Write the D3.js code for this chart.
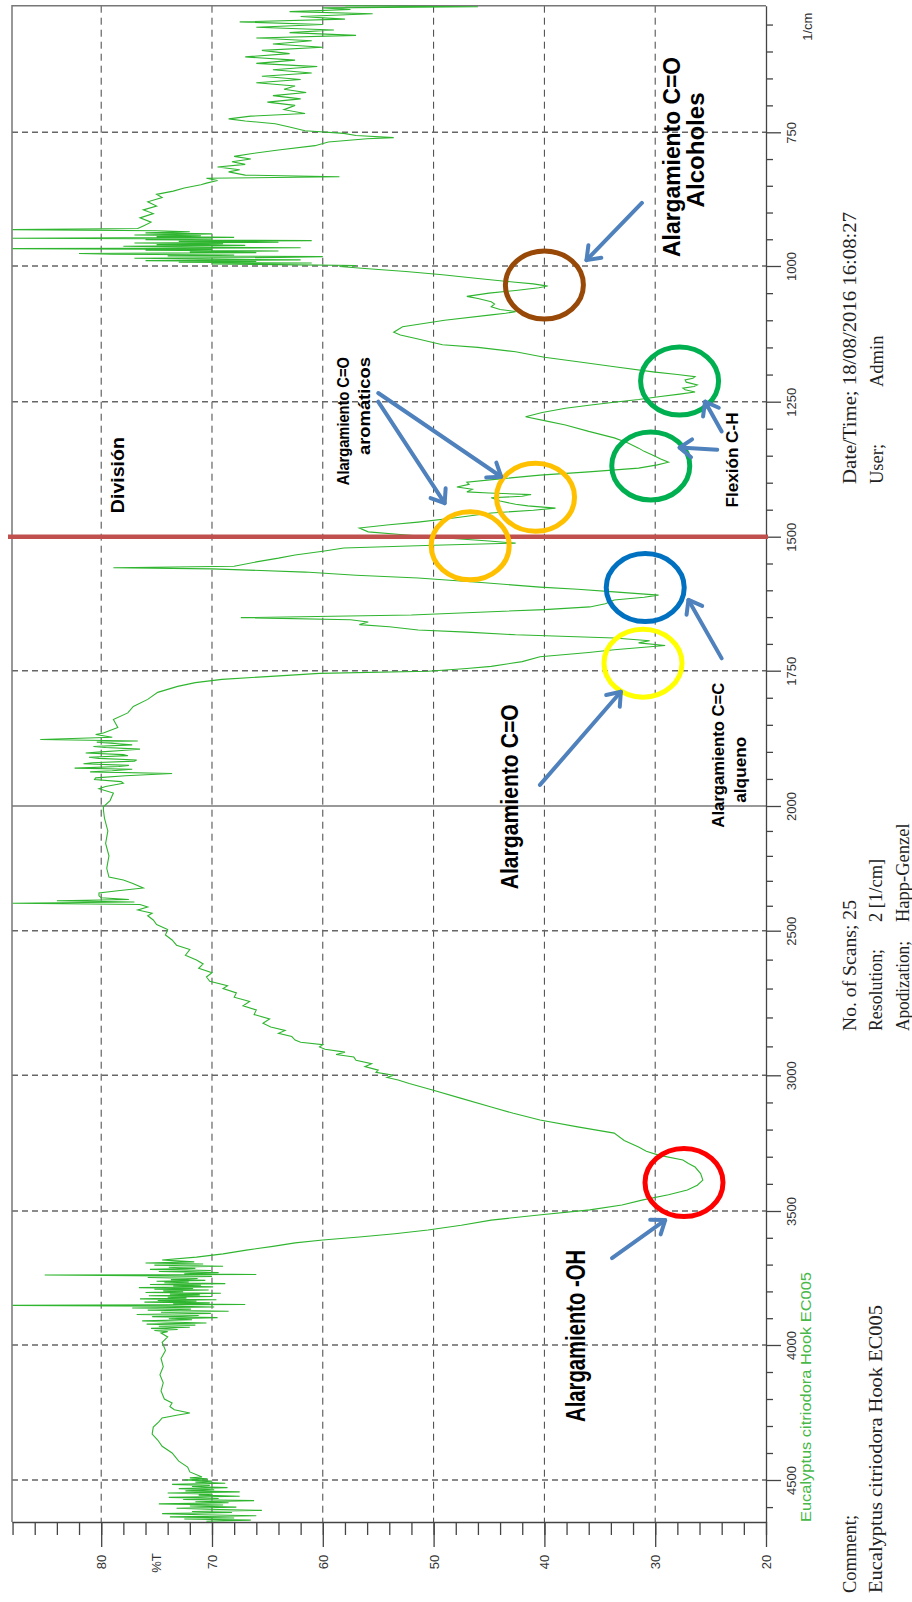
<!DOCTYPE html>
<html>
<head>
<meta charset="utf-8">
<script src="https://cdn.jsdelivr.net/npm/d3@7"></script>
<style>
  body { margin: 0; background: #fff; }
  svg { display: block; }
</style>
</head>
<body>
<div id="chart-container"></div>
<script>

// FTIR spectrum: [wavenumber 1/cm, %T]
const spectrum = [
  [4652,70.5],[4648,66.5],[4644,72.5],[4640,68.0],[4636,73.8],[4632,66.0],[4628,71.0],[4624,74.5],[4620,68.2],[4616,71.8],
  [4612,65.5],[4608,70.4],[4604,73.2],[4600,67.8],[4596,72.0],[4592,69.0],[4588,74.8],[4584,68.5],[4580,71.5],[4576,66.2],
  [4572,72.6],[4568,69.4],[4564,73.9],[4560,67.5],[4556,71.2],[4552,70.0],[4548,74.0],[4544,67.5],[4540,72.4],[4536,69.8],
  [4532,73.0],[4528,68.6],[4524,71.8],[4520,70.2],[4516,73.6],[4512,68.8],[4508,71.5],[4504,70.0],[4500,72.5],[4496,70.4],
  [4492,72.0],[4489,70.9],[4470,72],[4452,72.2],
  [4430,73],[4400,73.6],[4375,74.5],[4352,74.9],[4330,75.4],[4304,75.3],[4285,74.8],[4270,74.5],[4260,73.2],[4252,72.0],
  [4240,73.4],[4228,73.8],[4215,73.6],[4200,74.3],[4170,74.6],[4140,74.4],[4110,74.7],[4080,74.4],[4050,74.6],[4020,74.2],
  [3990,74.5],[3970,74.0],[3955,74.6],
  [3950,74.0],[3946,75.2],[3942,73.1],[3938,75.5],[3934,72.0],[3930,74.8],[3926,71.5],[3922,75.9],[3918,70.5],[3914,74.2],
  [3910,76.3],[3906,71.8],[3902,73.9],[3898,69.5],[3894,75.4],[3890,71.2],[3886,76.8],[3882,70.1],[3878,74.6],[3874,68.5],
  [3870,75.8],[3866,71.9],[3862,77.2],[3858,69.8],[3855,74.0],[3852,88],[3849,67],[3846,73.5],[3843,70.2],[3840,76.1],
  [3837,71.4],[3834,74.9],[3831,69.6],[3828,76.5],[3825,72.3],[3822,74.0],[3819,70.0],[3816,75.7],[3813,71.1],[3810,73.8],
  [3807,69.2],[3804,76.0],[3801,72.6],[3798,74.4],[3795,70.3],[3792,75.2],[3789,71.7],[3786,76.6],[3783,69.9],[3780,73.5],
  [3777,71.0],[3774,75.6],[3771,68.8],[3768,74.3],[3765,72.1],[3762,75.0],[3759,70.6],[3756,73.7],[3752,71.3],[3748,75.8],
  [3744,70.0],[3741,77.0],[3739,85.1],[3737,66.0],[3734,72.5],[3730,69.4],[3726,74.8],[3722,70.1],[3718,75.6],[3714,71.5],
  [3710,73.9],[3706,69.0],[3702,75.2],[3698,70.8],[3694,76.0],[3690,71.6],[3686,73.2],[3683,74.5],
  [3672,71.4],[3660,69],[3646,66.9],[3632,64.5],[3619,62.5],[3608,60],[3597,56.7],[3585,53.5],[3571,50.5],[3553,47.5],
  [3534,44.8],[3515,40.5],[3496,35.9],[3478,33],[3459,31.1],[3440,28.8],[3423,27.1],[3405,26.2],[3386,25.7],[3362,25.9],
  [3338,26.4],[3325,27.0],[3312,27.5],[3294,29.7],[3280,30.8],[3264,31.5],[3240,32.8],[3213,33.7],[3190,37],[3165,40.4],
  [3140,42.8],[3117,44.8],[3085,47.5],[3054,50.1],[3030,52.2],[3017,53.2],[3008,54.2],[3000,53.6],[2990,55.2],[2982,55.0],
  [2970,56.2],[2960,55.6],[2948,57.0],[2937,57.2],[2928,58.8],[2920,58.0],[2910,59.8],[2902,60.3],[2894,60.0],[2886,62.0],
  [2878,62.5],[2866,62.8],[2855,64.0],[2845,63.4],[2833,64.7],[2820,65.4],[2805,64.8],[2790,66.2],[2774,66.0],[2760,67.2],
  [2745,66.6],[2730,68.0],[2715,67.8],[2700,69.0],[2690,68.6],[2675,70.2],[2660,70.5],[2645,70.0],[2630,71.2],[2615,70.8],
  [2601,71.4],[2585,72.4],[2565,72.0],[2550,73.2],[2532,73.6],[2515,74.2],[2495,74.0],[2475,75.0],[2457,75.3],[2440,75.8],
  [2430,75.4],[2417,76.7],[2405,75.8],[2395,76.5],[2390,88],[2385,77],[2380,84],[2375,77.5],[2368,80],[2360,80.2],
  [2349,80.2],[2340,78.5],[2329,76.2],[2310,77.2],[2297,78.0],[2285,79.3],[2250,79.5],[2200,79.3],[2150,79.6],[2100,79.4],
  [2050,79.7],[2016,79.8],[2003,79.8],[1990,79.2],[1976,78.9],[1968,80.2],[1964,79.6],[1958,78.0],[1955,78.2],[1951,80.6],
  [1948,80.5],[1944,77.8],[1940,73.6],[1937,81.0],[1935,79],[1932,77.2],[1930,82.4],[1927,78.4],[1925,77.5],[1922,81.6],
  [1920,80.8],[1917,77.0],[1915,76.8],[1912,80.2],[1910,81.1],[1907,77.6],[1905,78],[1902,81.4],[1900,80],[1897,77.8],
  [1895,76.5],[1892,79.6],[1890,80.7],[1887,77.2],[1885,78.5],[1882,80.4],[1880,76.7],[1877,85.5],[1873,79],[1868,80.5],
  [1865,79.8],[1855,78.5],[1840,78.9],[1828,77.6],[1816,77.1],[1803,75.8],
  [1790,74.9],[1779,73.1],[1772,71.5],[1766,69.1],[1760,64.3],[1755,60.3],[1751,50.5],[1746,47],[1742,44.8],[1733,42],
  [1724,40.4],[1716,36],[1711,33.7],[1703,29.1],[1698,31.5],[1694,30.5],[1689,33.7],[1683,42.6],[1678,47],[1674,51.4],
  [1668,54],[1664,56.7],[1659,55.9],[1655,57.5],[1651,67.4],[1646,52],[1640,44.8],[1636,40],[1631,35.9],[1625,34.5],
  [1618,33.7],[1613,31],[1609,29.7],[1603,33.7],[1598,37],[1594,40.4],[1585,46],[1577,51.4],[1572,57],[1566,61.6],
  [1560,70],[1558,78.9],[1555,68],[1547,66.0],[1540,64],[1534,62.5],[1527,60],[1521,58.1],[1516,50],[1512,42.6],
  [1508,45],[1502,49.2],[1496,53],[1491,55.9],[1484,56.7],[1478,54],[1473,51.4],[1465,48],[1456,44.8],[1451,41],
  [1447,39.0],[1443,41.5],[1440,42.6],[1434,44],[1428,44.8],[1425,42],[1422,41.2],[1419,45],[1417,47.0],[1412,46.5],
  [1408,47.9],[1403,46.8],[1399,47.0],[1393,44],[1386,40.4],[1380,36],[1373,31.5],[1367,29.8],[1362,28.8],[1356,29.5],
  [1349,30.2],[1342,31],[1336,31.5],[1326,32.5],[1317,33.7],[1305,36],[1293,38.1],[1285,40],[1278,41.7],[1270,40.2],
  [1262,38.1],[1256,35.8],[1251,33.7],[1246,31.5],[1241,29.7],[1236,27.8],[1232,26.4],[1228,27.3],[1225,27.5],[1222,26.5],
  [1219,26.2],[1214,27.2],[1210,27.3],[1207,26.6],[1204,26.4],[1200,28],[1195,30.2],[1186,33.5],[1177,36.8],[1168,40],
  [1158,42.6],[1150,46],[1145,49.2],[1134,51.5],[1127,53],[1122,53.6],[1117,53.2],[1112,52.8],[1100,49],[1090,44.8],
  [1087,43.5],[1084,42.6],[1080,44],[1075,44.8],[1070,44.5],[1066,44.8],[1060,46],[1056,47.0],[1050,45],[1045,42.6],
  [1040,40.5],[1037,39.7],[1033,41],[1030,42.6],[1023,46],[1016,49.2],[1010,52.5],[1005,55.9],[1001,58.5],
  [999,57],[997.5,64],[996,70],[994.5,61],[993,73],[991.5,66],[990,76],[988.5,62],[987,71],[985.5,77],
  [984,64],[982.5,60],[981,74],[979.5,68],[978,79],[976.5,82],[975,66],[973.5,72],[972,64],[970.5,76],
  [969,70],[967.5,88],[966,62],[964.5,73],[963,78],[961.5,67],[960,75],[958.5,69],[957,77],[955.5,64],
  [954,73],[952.5,61],[951,76],[949.5,70],[948,88],[946.5,68],[945,75],[943.5,71],[942,77],[940,70],
  [938,76],[936,72],[934,75],[932,88],[930,76.7],[925,76.2],[918,75.5],[910,76.5],[902,75.3],[895,76.2],
  [888,75],[880,75.8],[872,74.5],[866,75],[860,73.5],[854,72.5],[848,71],[845,70.5],[840,69.5],[836,70.5],
  [833,58.5],[830,67],[824,68.5],[820,67.5],[815,69.5],[810,67],[805,68.2],[800,66.5],[795,68],[790,66.5],
  [783,64],[775,60.7],[768,59.5],[762,56],[760,53.6],[756,57],[752,58.1],[747,61.6],[740,63],[734,64.3],
  [729,67],[725,68.5],[720,66.5],[715,61.6],[708,63.5],[700,62.5],[694,65],[688,62],[682,64.5],[676,61.5],
  [670,63.5],[664,62.5],[658,66],[652,62],[646,65.5],[640,61],[634,64.5],[628,60.5],[622,66],[616,62.5],
  [610,67],[604,63],[598,65.5],[592,60],[586,64.5],[580,61],[575,66],[570,57],[565,63],[560,59],
  [555,66],[550,60],[545,67.5],[540,58],[535,62],[530,55.5],[526,63],[522,57.5],[519,60],[517,46],[515,58]
];

const transmittanceTicks = [20, 30, 40, 50, 60, 70, 80];
const transmittanceGrid = [30, 40, 50, 60, 70, 80];
const wavenumberTicks = [750, 1000, 1250, 1500, 1750, 2000, 2500, 3000, 3500, 4000, 4500];
const wavenumberGrid = [750, 1000, 1250, 1500, 1750, 2500, 3000, 3500, 4000, 4500];

// band circles: centre on the spectrum (wavenumber, %T)
const bandCircles = [
  { wn: 1035, t: 40.0, color: "#984807" },
  { wn: 1427, t: 40.8, color: "#ffc000" },
  { wn: 1517, t: 46.7, color: "#ffc000" },
  { wn: 1212, t: 27.8, color: "#00b050" },
  { wn: 1369, t: 30.4, color: "#00b050" },
  { wn: 1595, t: 30.9, color: "#0070c0" },
  { wn: 1736, t: 31.1, color: "#ffff00" },
  { wn: 3395, t: 27.4, color: "#ff0000" }
];

// arrows: [wavenumber, %T] from -> to
const arrows = [
  { from: [882, 31.2],  to: [989, 36.2] },
  { from: [1234, 55.0], to: [1389, 43.9] },
  { from: [1250, 55.0], to: [1438, 49.0] },
  { from: [1305, 24.0], to: [1250, 25.5] },
  { from: [1339, 24.4], to: [1335, 27.8] },
  { from: [1727, 24.0], to: [1618, 27.0] },
  { from: [1961, 40.4], to: [1789, 33.1] },
  { from: [3676, 33.9], to: [3534, 29.1] }
];

// annotation lines: centre (wavenumber, %T)
const annotations = [
  { text: "División",          wn: 1386, t: 78.5, size: 18, len: 76 },
  { text: "Alargamiento C=O",  wn: 1286, t: 58.1, size: 17, len: 128 },
  { text: "aromáticos",        wn: 1258, t: 56.2, size: 17, len: 98 },
  { text: "Alargamiento C=O",  wn: 796,  t: 28.5, size: 23, len: 200 },
  { text: "Alcoholes",         wn: 783,  t: 26.3, size: 23, len: 115 },
  { text: "Flexión C-H",       wn: 1358, t: 23.0, size: 16, len: 95 },
  { text: "Alargamiento C=C",  wn: 1906, t: 24.3, size: 17, len: 145 },
  { text: "alqueno",           wn: 1933, t: 22.3, size: 17, len: 66 },
  { text: "Alargamiento C=O",  wn: 1983, t: 43.1, size: 23, len: 185 },
  { text: "Alargamiento -OH",  wn: 3966, t: 37.2, size: 28, len: 172 }
];

const divisionWn = 1500;

const svgWidth = 912;
const svgHeight = 1602;
const plot = { left: 12, top: 5.7, right: 766, bottom: 1522 };

const svg = d3.select("#chart-container")
  .append("svg")
  .attr("width", svgWidth)
  .attr("height", svgHeight)
  .style("font-family", "'Liberation Sans', Arial, sans-serif");

const scaleT = d3.scaleLinear()
  .domain([20, 88.05])
  .range([plot.right, plot.left]);

// the printed wavenumber axis is not uniform (double scale under 2000), so it is piecewise
const scaleWn = d3.scaleLinear()
  .domain([515, 750, 1000, 1250, 1500, 1750, 2000, 2500, 3000, 3500, 4000, 4500, 4655])
  .range([plot.top, 132.3, 266, 401.7, 536.7, 670.7, 806, 930.7, 1075.3, 1211, 1345, 1480, plot.bottom]);

// grid
svg.append("g").selectAll("line")
  .data(transmittanceGrid)
  .join("line")
  .attr("x1", d => scaleT(d)).attr("x2", d => scaleT(d))
  .attr("y1", plot.top).attr("y2", plot.bottom)
  .attr("stroke", "#444").attr("stroke-width", 1)
  .attr("stroke-dasharray", "7,5");

svg.append("g").selectAll("line")
  .data(wavenumberGrid)
  .join("line")
  .attr("x1", plot.left).attr("x2", plot.right)
  .attr("y1", d => scaleWn(d)).attr("y2", d => scaleWn(d))
  .attr("stroke", "#666").attr("stroke-width", 1.4)
  .attr("stroke-dasharray", "6,4");

svg.append("line")
  .attr("x1", plot.left).attr("x2", plot.right)
  .attr("y1", scaleWn(2000)).attr("y2", scaleWn(2000))
  .attr("stroke", "#333").attr("stroke-width", 1);

// frame
svg.append("path")
  .attr("d", `M${plot.left},${plot.bottom}V${plot.top}H${plot.right}`)
  .attr("fill", "none").attr("stroke", "#777").attr("stroke-width", 1.5);

// %T axis (bottom)
const minorT = d3.range(20, 89, 2);
const axisT = svg.append("g").attr("transform", `translate(0,${plot.bottom})`);
axisT.append("g")
  .call(d3.axisBottom(scaleT).tickValues(minorT).tickSize(13).tickSizeOuter(0).tickFormat(""));
const axisTMajor = axisT.append("g")
  .call(d3.axisBottom(scaleT).tickValues(transmittanceTicks).tickSize(25).tickSizeOuter(0));
axisTMajor.select(".domain").remove();
axisT.selectAll("path, line").attr("stroke", "#444").attr("stroke-width", 1.3);
axisTMajor.selectAll("text")
  .attr("y", null).attr("dy", null)
  .attr("transform", "translate(0,40) rotate(-90)")
  .attr("text-anchor", "middle")
  .attr("dominant-baseline", "central")
  .attr("font-size", 13)
  .attr("fill", "#333");

svg.append("text")
  .attr("transform", `translate(${scaleT(75)},${plot.bottom + 41}) rotate(-90)`)
  .attr("text-anchor", "middle")
  .attr("dominant-baseline", "central")
  .attr("font-size", 13)
  .attr("fill", "#333")
  .text("%T");

// wavenumber axis (right)
const minorWn = d3.range(550, 2000, 50).concat(d3.range(2100, 4655, 100))
  .filter(d => !wavenumberTicks.includes(d));
const axisWn = svg.append("g").attr("transform", `translate(${plot.right},0)`);
axisWn.append("g")
  .call(d3.axisRight(scaleWn).tickValues(minorWn).tickSize(7).tickSizeOuter(0).tickFormat(""));
const axisWnMajor = axisWn.append("g")
  .call(d3.axisRight(scaleWn).tickValues(wavenumberTicks).tickSize(15).tickSizeOuter(0).tickFormat(d3.format("d")));
axisWnMajor.select(".domain").remove();
axisWn.selectAll("path, line").attr("stroke", "#444").attr("stroke-width", 1.3);
axisWnMajor.selectAll("text")
  .attr("x", null).attr("dy", null)
  .attr("transform", "translate(25,0) rotate(-90)")
  .attr("text-anchor", "middle")
  .attr("dominant-baseline", "central")
  .attr("font-size", 13)
  .attr("fill", "#333");

svg.append("text")
  .attr("transform", `translate(${plot.right + 41},${plot.top + 21}) rotate(-90)`)
  .attr("text-anchor", "middle")
  .attr("dominant-baseline", "central")
  .attr("font-size", 13)
  .attr("fill", "#333")
  .text("1/cm");

// spectrum
const lineGen = d3.line()
  .x(d => scaleT(d[1]))
  .y(d => scaleWn(d[0]));

svg.append("path")
  .datum(spectrum)
  .attr("fill", "none")
  .attr("stroke", "#2fb52f")
  .attr("stroke-width", 1.1)
  .attr("d", lineGen);

// division line
svg.append("line")
  .attr("x1", 8).attr("x2", plot.right + 2)
  .attr("y1", scaleWn(divisionWn)).attr("y2", scaleWn(divisionWn))
  .attr("stroke", "#c0504d").attr("stroke-width", 4.5);

// band circles
svg.append("g").selectAll("ellipse")
  .data(bandCircles)
  .join("ellipse")
  .attr("cx", d => scaleT(d.t))
  .attr("cy", d => scaleWn(d.wn))
  .attr("rx", 39).attr("ry", 34)
  .attr("fill", "none")
  .attr("stroke", d => d.color)
  .attr("stroke-width", 5);

// arrows
svg.append("defs").append("marker")
  .attr("id", "arrowhead")
  .attr("markerUnits", "userSpaceOnUse")
  .attr("viewBox", "-16 -12 20 24")
  .attr("markerWidth", 20).attr("markerHeight", 24)
  .attr("refX", 0).attr("refY", 0)
  .attr("orient", "auto")
  .style("overflow", "visible")
  .append("path")
  .attr("d", "M-12,-9L0,0L-12,9")
  .attr("fill", "none")
  .attr("stroke", "#4f81bd")
  .attr("stroke-width", 4)
  .attr("stroke-linecap", "round")
  .attr("stroke-linejoin", "round");

svg.append("g").selectAll("line")
  .data(arrows)
  .join("line")
  .attr("x1", d => scaleT(d.from[1])).attr("y1", d => scaleWn(d.from[0]))
  .attr("x2", d => scaleT(d.to[1])).attr("y2", d => scaleWn(d.to[0]))
  .attr("stroke", "#4f81bd")
  .attr("stroke-width", 4)
  .attr("stroke-linecap", "round")
  .attr("marker-end", "url(#arrowhead)");

// annotation text
svg.append("g").selectAll("text")
  .data(annotations)
  .join("text")
  .attr("transform", d => `translate(${scaleT(d.t)},${scaleWn(d.wn)}) rotate(-90)`)
  .attr("text-anchor", "middle")
  .attr("dominant-baseline", "central")
  .attr("font-size", d => d.size)
  .attr("font-weight", "bold")
  .attr("textLength", d => d.len)
  .attr("lengthAdjust", "spacingAndGlyphs")
  .attr("fill", "#000")
  .text(d => d.text);

// instrument notes
function note(x, y, txt, len) {
  const t = svg.append("text")
    .attr("transform", `translate(${x},${y}) rotate(-90)`)
    .attr("dominant-baseline", "central")
    .attr("font-family", "'Liberation Serif', 'Times New Roman', serif")
    .attr("font-size", 18.5)
    .attr("fill", "#222")
    .text(txt);
  if (len) t.attr("textLength", len).attr("lengthAdjust", "spacingAndGlyphs");
}

note(850, 484, "Date/Time; 18/08/2016 16:08:27", 272);
note(877, 484, "User;");
note(877, 387, "Admin");
note(850, 1031, "No. of Scans; 25", 131);
note(876, 1031, "Resolution;", 82);
note(876, 922, "2 [1/cm]");
note(903, 1031, "Apodization;", 90);
note(903, 922, "Happ-Genzel");
note(850, 1593, "Comment;");
note(876, 1593, "Eucalyptus citriodora Hook EC005", 288);

svg.append("text")
  .attr("transform", `translate(806,${plot.bottom}) rotate(-90)`)
  .attr("dominant-baseline", "central")
  .attr("font-size", 14)
  .attr("textLength", 250)
  .attr("lengthAdjust", "spacingAndGlyphs")
  .attr("fill", "#48b848")
  .text("Eucalyptus citriodora Hook EC005");

</script>
</body>
</html>
